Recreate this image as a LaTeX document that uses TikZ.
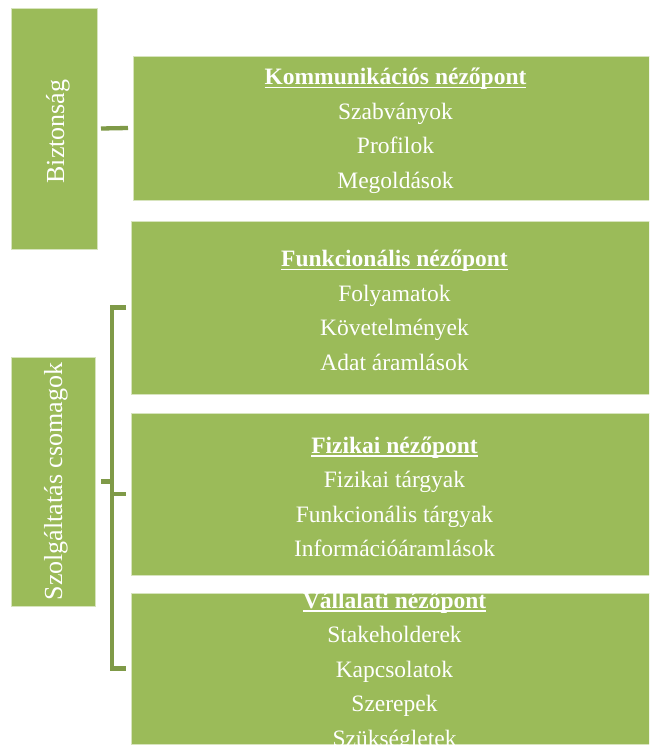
\documentclass[tikz,border=0pt]{standalone}
\usepackage{fontspec}
\setmainfont{Liberation Serif}
\definecolor{boxgreen}{HTML}{9BBB59}
\definecolor{linegreen}{HTML}{7F9A48}
\definecolor{edgegreen}{HTML}{D7E4BD}
\newcommand\myul[1]{\setbox0=\hbox{#1}\rlap{\rule[-3.4pt]{\wd0}{1.4pt}}\box0}
\tikzset{
  greenbox/.style={rectangle, fill=boxgreen, draw=edgegreen, line width=0.8pt, inner sep=0pt, outer sep=0pt, anchor=north west},
  boxtext/.style={text=white, align=center, inner sep=0pt, yshift=-3pt, font=\fontsize{23.5}{34.5}\selectfont},
  sidetext/.style={text=white, inner sep=0pt, rotate=90, font=\fontsize{26}{30}\selectfont},
  conn/.style={draw=linegreen, line width=4.3pt}
}
\begin{document}
\begin{tikzpicture}[x=1pt,y=-1pt]
\useasboundingbox (0,0) rectangle (649,746);
\clip (0,0) rectangle (649,746);
% side boxes
\node[greenbox, minimum width=86pt, minimum height=241pt] (bz) at (11,8) {};
\node[sidetext] (bzt) at ([xshift=4pt,yshift=-3pt]bz.center) {Biztonság};
\node[greenbox, minimum width=84pt, minimum height=249pt] (sz) at (11,357) {};
\node[sidetext] (szt) at ([xshift=3pt]sz.center) {Szolgáltatás csomagok};
% main boxes
\node[greenbox, minimum width=525pt, minimum height=144pt] (b1) at (133,56) {};
\node[greenbox, minimum width=527pt, minimum height=173pt] (b2) at (131,221) {};
\node[greenbox, minimum width=527pt, minimum height=162pt] (b3) at (131,413) {};
\node[greenbox, minimum width=527pt, minimum height=151pt] (b4) at (131,593) {};
\node[boxtext] (t1) at (b1.center) {\myul{\textbf{Kommunikációs nézőpont}}\\Szabványok\\Profilok\\Megoldások};
\node[boxtext] (t2) at (b2.center) {\myul{\textbf{Funkcionális nézőpont}}\\Folyamatok\\Követelmények\\Adat áramlások};
\node[boxtext] (t3) at (b3.center) {\myul{\textbf{Fizikai nézőpont}}\\Fizikai tárgyak\\Funkcionális tárgyak\\Információáramlások};
\node[boxtext] (t4) at (b4.center) {\myul{\textbf{Vállalati nézőpont}}\\Stakeholderek\\Kapcsolatok\\Szerepek\\Szükségletek};
% connectors
\draw[conn] ([xshift=4pt]bz.east) -- ([xshift=-5pt]b1.west);
\coordinate (bt) at ([xshift=-19pt]b2.west);
\coordinate (bb) at ([xshift=-19pt]b4.west);
\draw[conn, line join=miter] ([xshift=-5pt]b2.west) -- (bt) -- (bb) -- ([xshift=-5pt]b4.west);
\draw[conn] (bt |- b3.west) -- ([xshift=-5pt]b3.west);
\draw[conn] ([xshift=6pt]sz.east) -- (bt |- sz.east);
\end{tikzpicture}
\end{document}
